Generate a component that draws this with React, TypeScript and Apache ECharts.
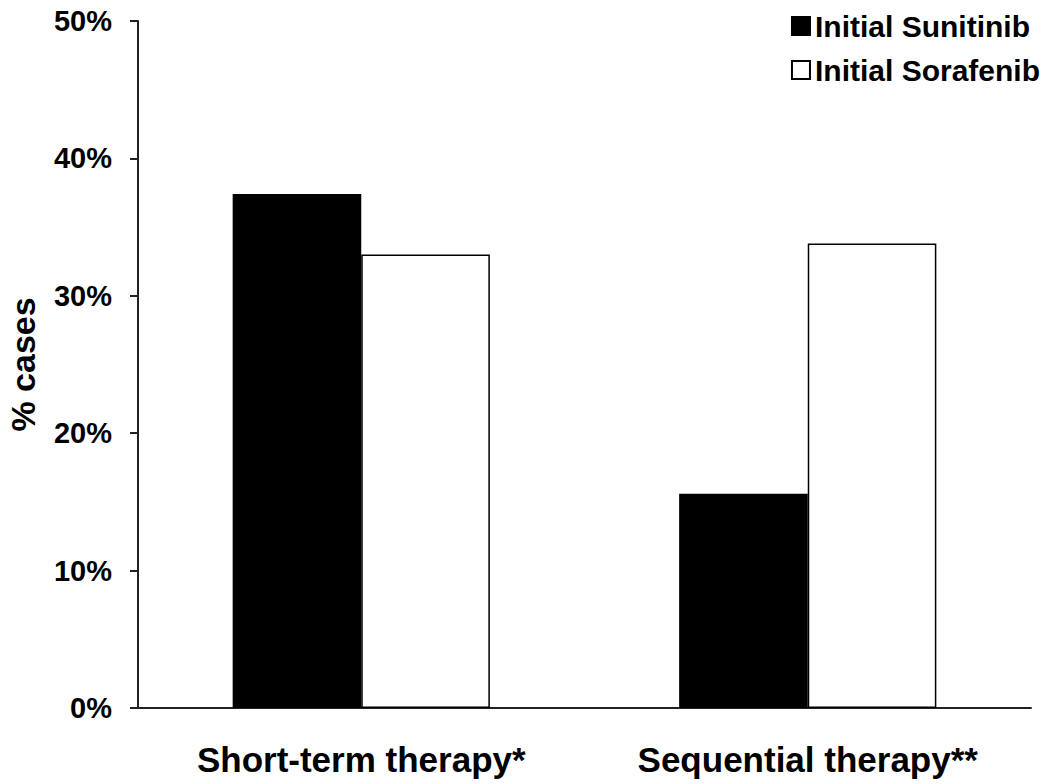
import React, { useEffect, useRef } from "react";
import * as echarts from "echarts";

const categories = ["Short-term therapy*", "Sequential therapy**"];
const sunitinib = [37.4, 15.6];
const sorafenib = [33.0, 33.8];
const seriesNames = ["Initial Sunitinib", "Initial Sorafenib"];

const FONT = "'Liberation Sans', Arial, sans-serif";

export default function App() {
  const ref = useRef<HTMLDivElement>(null);
  useEffect(() => {
    document.body.style.margin = "0";
    const chart = echarts.init(ref.current!, null, { renderer: "svg" });
    chart.setOption({
      animation: false,
      backgroundColor: "#fff",
      textStyle: { fontFamily: FONT, color: "#000" },
      grid: { left: 138, right: 19, top: 21, bottom: 76, containLabel: false, outerBoundsMode: "none" },
      legend: {
        orient: "vertical",
        right: 5,
        top: 6,
        itemWidth: 18,
        itemHeight: 18,
        itemGap: 14,
        icon: "rect",
        textStyle: { fontFamily: FONT, fontSize: 30, fontWeight: "bold", color: "#000" },
        data: seriesNames,
      },
      xAxis: {
        type: "category",
        data: categories,
        axisLine: { lineStyle: { color: "#222", width: 2 } },
        axisTick: { length: 8, lineStyle: { color: "#222", width: 2 } },
        axisLabel: { fontFamily: FONT, fontSize: 35, fontWeight: "bold", color: "#000", margin: 34 },
      },
      yAxis: {
        type: "value",
        min: 0,
        max: 50,
        interval: 10,
        name: "% cases",
        nameLocation: "middle",
        nameGap: 98,
        nameTextStyle: { fontFamily: FONT, fontSize: 34, fontWeight: "bold", color: "#000" },
        splitLine: { show: false },
        axisLine: { show: true, lineStyle: { color: "#222", width: 2 } },
        axisTick: { show: true, length: 8, lineStyle: { color: "#222", width: 2 } },
        axisLabel: { fontFamily: FONT, fontSize: 29, fontWeight: "bold", color: "#000", margin: 26, formatter: "{value}%" },
      },
      series: [
        {
          name: seriesNames[0],
          type: "bar",
          data: sunitinib,
          barGap: "0%",
          barCategoryGap: "42.4%",
          itemStyle: { color: "#000", borderColor: "#000", borderWidth: 1.5 },
        },
        {
          name: seriesNames[1],
          type: "bar",
          data: sorafenib,
          itemStyle: { color: "#fff", borderColor: "#000", borderWidth: 1.5 },
        },
      ],
    });
    return () => chart.dispose();
  }, []);
  return <div ref={ref} style={{ position: "fixed", left: 0, top: 0, width: 1050, height: 784 }} />;
}
